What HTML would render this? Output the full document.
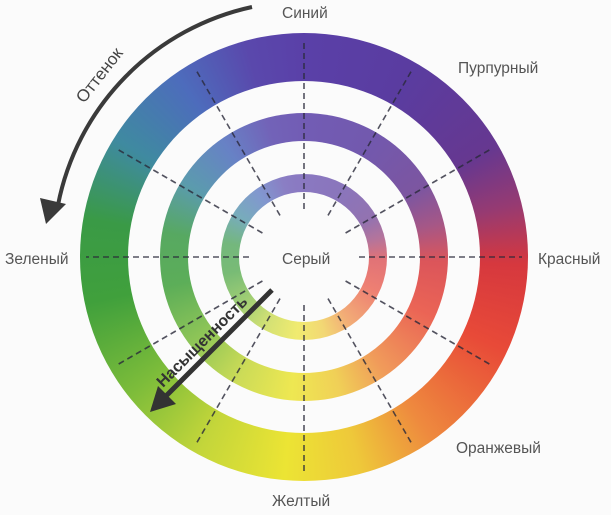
<!DOCTYPE html>
<html><head><meta charset="utf-8"><style>
html,body{margin:0;padding:0;background:#fbfbfb;}
#w{position:relative;width:611px;height:515px;overflow:hidden;background:#fbfbfb;font-family:"Liberation Sans",sans-serif;}
.d{position:absolute;border-radius:50%;}
.wh{background:#fbfbfb;}
.c{background:conic-gradient(from 0deg,#5a40a8 0deg,#5a3ca0 30deg,#663890 60deg,#963a72 76deg,#d6383e 92deg,#e84a38 115deg,#ee8a3e 145deg,#eec83a 165deg,#ece434 185deg,#c4d63a 208deg,#7cbc3a 232deg,#40a03c 258deg,#3a9a46 280deg,#3f8aa0 302deg,#4d6cbc 325deg,#5a48ac 345deg,#5a40a8 360deg);}
svg{position:absolute;left:0;top:0;}
</style></head><body><div id="w">
<div class="d c" style="left:80px;top:33px;width:448px;height:448px;"></div>
<div class="d wh" style="left:128px;top:81px;width:352px;height:352px;"></div>
<div class="d c" style="left:160px;top:113px;width:288px;height:288px;opacity:0.85"></div>
<div class="d wh" style="left:188px;top:141px;width:232px;height:232px;"></div>
<div class="d c" style="left:221px;top:174px;width:166px;height:166px;opacity:0.7"></div>
<div class="d wh" style="left:239px;top:192px;width:130px;height:130px;"></div>
<svg width="611" height="515" viewBox="0 0 611 515">
<g stroke="#2a2a3a" stroke-width="1.6" stroke-dasharray="6 4" opacity="0.8" id="rays"></g>
<path d="M252,7 A252,252 0 0 0 58,205" fill="none" stroke="#3a3a3a" stroke-width="4"/>
<polygon points="46,224 40,198 66,204" fill="#3a3a3a"/>
<line x1="272" y1="290" x2="165" y2="397" stroke="#333" stroke-width="5"/>
<polygon points="150,412 158,386 176,404" fill="#333"/>
<text transform="translate(84,104) rotate(-52)" font-size="17" fill="#444">Оттенок</text>
<text transform="translate(163,388) rotate(-45)" font-size="16" fill="#333" font-weight="bold">Насыщенность</text>
<g font-size="15.5" fill="#555">
<text x="282" y="18">Синий</text>
<text x="458" y="73">Пурпурный</text>
<text x="538" y="264">Красный</text>
<text x="456" y="453">Оранжевый</text>
<text x="272" y="506">Желтый</text>
<text x="5" y="264">Зеленый</text>
<text x="282" y="264">Серый</text>
</g>
</svg>
<script>
var g=document.getElementById('rays');
for(var i=0;i<12;i++){var a=i*Math.PI/6;var cx=304,cy=257;
var r1=48,r2=218;
var l=document.createElementNS('http://www.w3.org/2000/svg','line');
l.setAttribute('x1',cx+r1*Math.cos(a));l.setAttribute('y1',cy+r1*Math.sin(a));
l.setAttribute('x2',cx+r2*Math.cos(a));l.setAttribute('y2',cy+r2*Math.sin(a));
if(i==0||i==6){l.setAttribute('x1',cx+(i==0?55:-55));}
g.appendChild(l);}
</script>
</div></body></html>
